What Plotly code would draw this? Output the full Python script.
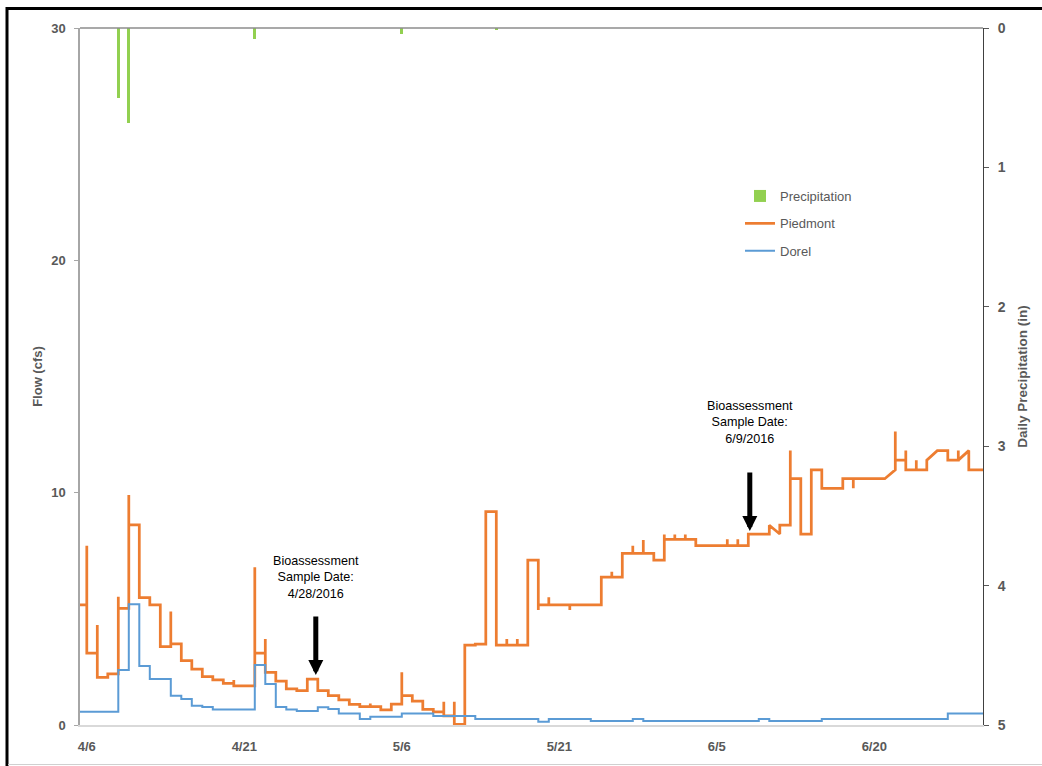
import pandas as pd
import plotly.graph_objects as go

# ---- data -------------------------------------------------------------
# daily dates (4/5 is the partial day at the start of the record)
dates = pd.date_range("2016-04-05", "2016-06-30", freq="D")

# Piedmont daily flow (cfs)
piedmont = [
    5.17,                                                   # 4/5
    3.09, 2.05, 2.20, 5.02, 8.61, 5.48, 5.17, 3.37, 3.49, 2.77,   # 4/6 - 4/15
    2.40, 2.08, 1.94, 1.79, 1.68, 1.68, 3.09, 2.27, 1.89, 1.55,   # 4/16 - 4/25
    1.48, 1.98, 1.48, 1.26, 1.08, 0.89, 0.79, 0.79, 0.65, 0.90,   # 4/26 - 5/5
    1.26, 1.03, 0.67, 0.57, 0.39, 0.03, 3.44, 3.48, 9.18, 3.44,   # 5/6 - 5/15
    3.44, 3.44, 7.10, 5.17, 5.17, 5.17, 5.17, 5.17, 5.17, 6.36,   # 5/16 - 5/25
    6.36, 7.39, 7.39, 7.39, 7.10, 7.99, 7.99, 7.99, 7.72, 7.72,   # 5/26 - 6/4
    7.72, 7.72, 7.72, 8.22, 8.22, 8.60, 8.60, 10.60, 8.22, 10.98, # 6/5 - 6/14
    10.19, 10.19, 10.60, 10.60, 10.60, 10.60, 10.60, 11.40, 10.98, 10.98,  # 6/15 - 6/24
    11.40, 11.81, 11.40, 11.40, 10.98, 10.98,                     # 6/25 - 6/30
]

# short-lived peaks reached at the start of a day (None = no peak)
piedmont_peak = [None] * len(dates)
for day, peak in {
    "2016-04-06": 7.72, "2016-04-07": 4.30, "2016-04-09": 5.52, "2016-04-10": 9.90,
    "2016-04-14": 4.88, "2016-04-19": 2.00, "2016-04-20": 1.94, "2016-04-22": 6.79,
    "2016-04-23": 3.70, "2016-05-03": 0.93, "2016-05-06": 2.27, "2016-05-10": 1.00,
    "2016-05-11": 1.00, "2016-05-16": 3.70, "2016-05-17": 3.70, "2016-05-19": 4.95,
    "2016-05-20": 5.50, "2016-05-22": 4.95, "2016-05-26": 6.60, "2016-05-28": 7.72,
    "2016-05-29": 7.96, "2016-05-31": 8.20, "2016-06-01": 8.20, "2016-06-02": 8.20,
    "2016-06-06": 7.99, "2016-06-07": 7.99, "2016-06-12": 11.81, "2016-06-18": 10.19,
    "2016-06-22": 12.63, "2016-06-23": 11.81, "2016-06-24": 11.40, "2016-06-28": 11.81,
}.items():
    piedmont_peak[dates.get_loc(pd.Timestamp(day))] = peak

# end-of-day value where the record ramps within a day (None = flat)
piedmont_end = [None] * len(dates)
for day, end in {
    "2016-06-10": 8.22, "2016-06-21": 10.98, "2016-06-25": 11.81, "2016-06-28": 11.81,
}.items():
    piedmont_end[dates.get_loc(pd.Timestamp(day))] = end

# Dorel daily flow (cfs)
dorel = [
    0.57,                                                   # 4/5
    0.57, 0.57, 0.57, 2.37, 5.20, 2.54, 1.98, 1.98, 1.26, 1.12,   # 4/6 - 4/15
    0.83, 0.77, 0.67, 0.67, 0.67, 0.67, 2.58, 1.76, 0.77, 0.67,   # 4/16 - 4/25
    0.60, 0.60, 0.76, 0.69, 0.50, 0.50, 0.26, 0.36, 0.36, 0.36,   # 4/26 - 5/5
    0.50, 0.50, 0.50, 0.39, 0.39, 0.39, 0.39, 0.26, 0.26, 0.26,   # 5/6 - 5/15
    0.26, 0.26, 0.26, 0.14, 0.26, 0.26, 0.26, 0.26, 0.17, 0.17,   # 5/16 - 5/25
    0.17, 0.17, 0.26, 0.17, 0.17, 0.17, 0.17, 0.17, 0.17, 0.17,   # 5/26 - 6/4
    0.17, 0.17, 0.17, 0.17, 0.26, 0.17, 0.17, 0.17, 0.17, 0.17,   # 6/5 - 6/14
    0.26, 0.26, 0.26, 0.26, 0.26, 0.26, 0.26, 0.26, 0.26, 0.26,   # 6/15 - 6/24
    0.26, 0.26, 0.49, 0.49, 0.49, 0.49,                           # 6/25 - 6/30
]

# daily precipitation (in)
precip_dates = ["2016-04-09", "2016-04-10", "2016-04-22", "2016-05-06", "2016-05-15"]
precip_in = [0.50, 0.68, 0.08, 0.04, 0.01]

# x-axis ticks
tick_dates = ["2016-04-06", "2016-04-21", "2016-05-06", "2016-05-21", "2016-06-05", "2016-06-20"]
tick_labels = ["4/6", "4/21", "5/6", "5/21", "6/5", "6/20"]

# sample-date call-outs
sample_dates = ["2016-04-28", "2016-06-09"]
sample_labels = ["Bioassessment<br>Sample Date:<br>4/28/2016",
                 "Bioassessment<br>Sample Date:<br>6/9/2016"]


# ---- helpers ----------------------------------------------------------
def step_path(days, values, peaks=None, ends=None):
    """Daily values held through each day, with optional peaks and ramps."""
    xs, ys = [], []
    for i, day in enumerate(days):
        t0 = day
        t1 = day + pd.Timedelta(days=1)
        if peaks is not None and peaks[i] is not None:
            xs.append(t0)
            ys.append(peaks[i])
        end = values[i] if ends is None or ends[i] is None else ends[i]
        xs += [t0, t1]
        ys += [values[i], end]
    return xs, ys


GRAY_TEXT = "#595959"
FONT = "Liberation Sans"

px, py = step_path(dates, piedmont, piedmont_peak, piedmont_end)
dx, dy = step_path(dates, dorel)

fig = go.Figure()
fig.add_trace(go.Bar(
    x=pd.to_datetime(precip_dates), y=precip_in, name="Precipitation",
    yaxis="y2", marker=dict(color="#92d050", line=dict(width=0)),
    width=0.3 * 86400000, base=0, legendgroup="g1", legendrank=1,
))
fig.add_trace(go.Scatter(
    x=px, y=py, mode="lines", name="Piedmont",
    line=dict(color="#ed7d31", width=2.75), legendgroup="g2", legendrank=2,
))
# Dorel drawn after Piedmont so it sits on top
fig.add_trace(go.Scatter(
    x=dx, y=dy, mode="lines", name="Dorel",
    line=dict(color="#5b9bd5", width=2), legendgroup="g3", legendrank=3,
))

# arrows and labels for the sample dates
arrow_tips = [2.15, 8.35]
label_y = [6.33, 13.02]
x_shifts = [-2, -9]
for d, lab, tip, ly, xs in zip(sample_dates, sample_labels, arrow_tips, label_y, x_shifts):
    fig.add_annotation(
        x=d, y=tip, xref="x", yref="y", text="", showarrow=True,
        ax=0, ay=-60, arrowhead=2, arrowwidth=5, arrowsize=0.6,
        arrowcolor="black", xshift=xs,
    )
    fig.add_annotation(
        x=d, y=ly, xref="x", yref="y", text=lab, showarrow=False,
        font=dict(family=FONT, size=12.6, color="black"),
        align="center", xanchor="center", yanchor="middle", xshift=xs,
    )

# frame and the top edge of the plot area
W, H = 1042, 766
L, R, T, B = 80, 983, 28, 725
def px_x(v):
    return (v - L) / (R - L)
def px_y(v):
    return (B - v) / (B - T)

fig.add_shape(type="line", xref="paper", yref="paper", x0=0, x1=1, y0=1, y1=1,
              line=dict(color="#8c8c8c", width=1.5), layer="above")
fig.add_shape(type="line", xref="paper", yref="paper",
              x0=px_x(7), x1=px_x(7), y0=px_y(7), y1=px_y(768),
              line=dict(color="black", width=3))
fig.add_shape(type="line", xref="paper", yref="paper",
              x0=px_x(6), x1=px_x(1044), y0=px_y(8.5), y1=px_y(8.5),
              line=dict(color="black", width=3))
fig.add_shape(type="line", xref="paper", yref="paper",
              x0=px_x(8), x1=px_x(1044), y0=px_y(764.5), y1=px_y(764.5),
              line=dict(color="#d0d0d0", width=1))

tickfont = dict(family=FONT, size=13, color=GRAY_TEXT, weight="bold")
titlefont = dict(family=FONT, size=13, color=GRAY_TEXT, weight="bold")

fig.update_layout(
    width=W, height=H,
    margin=dict(l=L, r=W - R, t=T, b=H - B),
    paper_bgcolor="white", plot_bgcolor="white",
    showlegend=True,
    legend=dict(
        x=px_x(740), y=px_y(181), xanchor="left", yanchor="top",
        font=dict(family=FONT, size=13, color=GRAY_TEXT),
        bgcolor="rgba(0,0,0,0)", tracegroupgap=7.5, itemwidth=30,
        traceorder="grouped",
    ),
    xaxis=dict(
        type="date",
        range=["2016-04-05 08:27", "2016-06-30 08:27"],
        tickvals=tick_dates, ticktext=tick_labels,
        ticks="", showgrid=False, zeroline=False,
        showline=True, linecolor="#d9d9d9", linewidth=2,
        tickfont=tickfont, ticklabelstandoff=8,
    ),
    yaxis=dict(
        range=[0, 30], tickvals=[0, 10, 20, 30],
        ticks="outside", ticklen=4, tickcolor="#a6a6a6", tickwidth=1,
        showline=True, linecolor="#a6a6a6", linewidth=1.5,
        showgrid=False, zeroline=False,
        tickfont=tickfont, ticklabelstandoff=6,
        title=dict(text="Flow (cfs)", font=titlefont, standoff=6),
    ),
    yaxis2=dict(
        overlaying="y", side="right",
        range=[5, 0], tickvals=[0, 1, 2, 3, 4, 5],
        ticks="outside", ticklen=5, tickcolor="#595959", tickwidth=1,
        showline=True, linecolor="#404040", linewidth=1,
        showgrid=False, zeroline=False,
        tickfont=dict(family=FONT, size=14, color=GRAY_TEXT, weight="bold"),
        ticklabelstandoff=6,
        title=dict(text="Daily Precipitation (in)", font=dict(family=FONT, size=13.5, color=GRAY_TEXT, weight="bold"), standoff=12),
    ),
    bargap=0,
)

fig.write_html("out.html")
